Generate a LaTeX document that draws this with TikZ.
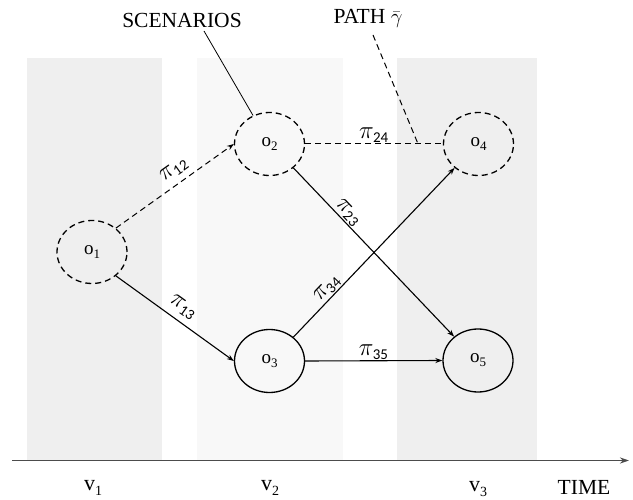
\documentclass[tikz,border=0pt]{standalone}
\usepackage{fontspec}
\setmainfont{Liberation Serif}
\newfontfamily\subfont{Carlito}
\usetikzlibrary{shapes.geometric,arrows.meta,calc}
\definecolor{bandA}{HTML}{EFEFEF}
\definecolor{bandB}{HTML}{F8F8F8}
\newcommand\pilab[1]{\fontsize{25}{25}\selectfont$\pi_{\mbox{\subfont\fontsize{15}{15}\selectfont #1}}$}
\newcommand\olab[1]{\fontsize{19}{19}\selectfont o\raisebox{-0.45ex}{\fontsize{13}{13}\selectfont #1}}
\newcommand\vlab[1]{\fontsize{22}{22}\selectfont v\raisebox{-0.45ex}{\fontsize{14}{14}\selectfont #1}}
\begin{document}
\begin{tikzpicture}[x=1pt,y=-1pt,
  scen/.style={ellipse,draw,line width=1.3pt,minimum width=70pt,minimum height=63pt,inner sep=0pt},
  dscen/.style={scen,dash pattern=on 6pt off 4pt},
  conn/.style={line width=1.1pt,-{Stealth[length=7pt,width=5pt]}},
  dconn/.style={conn,line width=1pt,dash pattern=on 6pt off 4pt},
  lab/.style={font=\fontsize{21.5}{22}\selectfont,inner sep=0pt},
  plab/.style={inner sep=3pt,sloped,above}]
\useasboundingbox (0,0) rectangle (633,500);
% bands
\fill[bandA] (27,58) rectangle (162,460);
\fill[bandB] (197,58) rectangle (343,460);
\fill[bandA] (397,58) rectangle (537,460);
% axis
\coordinate (axA) at (12,460.5);
\coordinate (axB) at (629,460.5);
\draw[line width=1.5pt,black!70,-{Stealth[length=9pt,width=6pt]}] (axA) -- (axB);
\node[inner sep=0pt] (v1) at (93,488) {\vlab{1}};
\node[inner sep=0pt] (v2) at (270,488) {\vlab{2}};
\node[inner sep=0pt] (v3) at (478,489) {\vlab{3}};
\node[lab] (time) at (584,487) {TIME};
% scenario nodes
\node[dscen] (o1) at (92,252) {\olab{1}};
\node[dscen] (o2) at (269.5,144) {\olab{2}};
\node[scen] (o3) at (269.5,361) {\olab{3}};
\node[dscen] (o4) at (478.5,144) {\olab{4}};
\node[scen] (o5) at (478,360.5) {\olab{5}};
% connectors
\draw[dconn] (o1.45) -- node[plab,pos=0.56,inner sep=6pt] (p12) {\pilab{12}} (o2.west);
\draw[conn] (o1.-45) -- node[plab,inner sep=6pt] (p13) {\pilab{13}} (o3.west);
\draw[line width=1pt,dash pattern=on 6pt off 4pt] (o2.east) -- node[plab,inner sep=1pt] (p24) {\pilab{24}} (o4.west);
\draw[conn] (o2.-45) -- node[plab,pos=0.3,inner sep=1pt] (p23) {\pilab{23}} (o5.135);
\draw[conn] (o3.45) -- node[plab,pos=0.25,inner sep=1pt] (p34) {\pilab{34}} (o4.-135);
\draw[conn] (o3.east) -- node[plab,inner sep=1pt] (p35) {\pilab{35}} (o5.west);
% callouts
\node[lab] (scen) at (182,20) {SCENARIOS};
\node[lab] (path) at (368,18) {PATH $\bar{\gamma}$};
\coordinate (scA) at (204,31);
\draw[line width=0.8pt] (scA) -- (o2.120);
\coordinate (pA) at (373,35);
\coordinate (pB) at ($(o2.east)!0.82!(o4.west)$);
\draw[line width=1pt,dash pattern=on 6pt off 4pt] (pA) -- (pB);
\end{tikzpicture}
\end{document}
